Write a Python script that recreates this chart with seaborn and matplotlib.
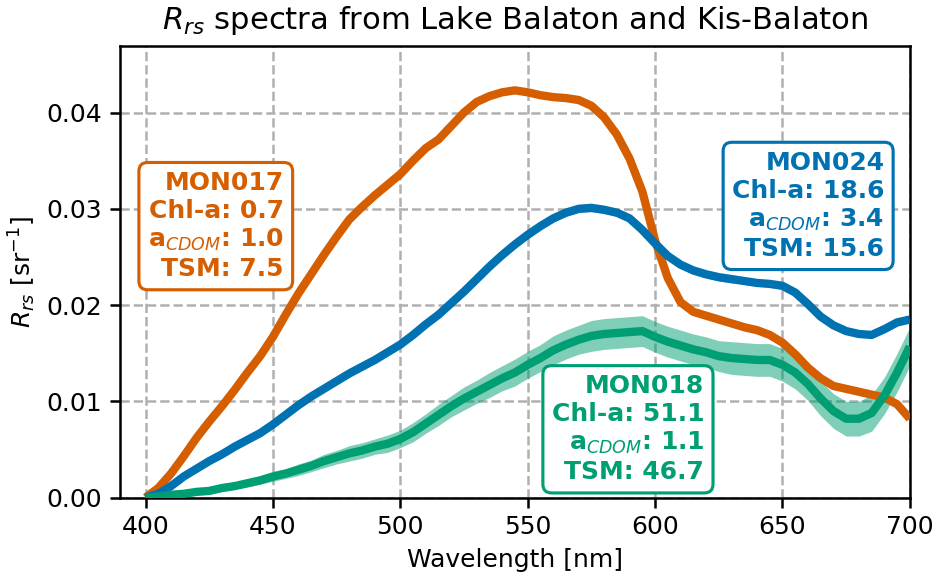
import numpy as np
import pandas as pd
import matplotlib
matplotlib.use("Agg")
import matplotlib.pyplot as plt
import seaborn as sns

wavelength = list(range(400, 701, 5))

mon017 = [0.0000, 0.0010, 0.0025, 0.0043, 0.0062, 0.0079, 0.0095, 0.0112, 0.0130, 0.0147,
          0.0167, 0.0190, 0.0212, 0.0232, 0.0252, 0.0271, 0.0289, 0.0302, 0.0314, 0.0325,
          0.0336, 0.0350, 0.0363, 0.0372, 0.0386, 0.0400, 0.0411, 0.0417, 0.0421, 0.0423,
          0.0421, 0.0418, 0.0416, 0.0415, 0.0413, 0.0407, 0.0395, 0.0377, 0.0352, 0.0318,
          0.0267, 0.0228, 0.0203, 0.0193, 0.0189, 0.0185, 0.0181, 0.0177, 0.0174, 0.0169,
          0.0161, 0.0149, 0.0135, 0.0124, 0.0116, 0.0113, 0.0110, 0.0107, 0.0104, 0.0097,
          0.0082]
mon017_std = [0.0000, 0.0001, 0.0001, 0.0001, 0.0001, 0.0002, 0.0002, 0.0002, 0.0002, 0.0002,
              0.0002, 0.0002, 0.0002, 0.0002, 0.0002, 0.0002, 0.0002, 0.0002, 0.0002, 0.0003,
              0.0003, 0.0003, 0.0003, 0.0003, 0.0003, 0.0003, 0.0003, 0.0003, 0.0003, 0.0003,
              0.0003, 0.0003, 0.0003, 0.0003, 0.0003, 0.0003, 0.0003, 0.0003, 0.0003, 0.0003,
              0.0002, 0.0002, 0.0002, 0.0002, 0.0002, 0.0002, 0.0002, 0.0002, 0.0002, 0.0002,
              0.0002, 0.0002, 0.0002, 0.0002, 0.0002, 0.0002, 0.0002, 0.0002, 0.0002, 0.0002,
              0.0002]

mon024 = [0.0000, 0.0004, 0.0012, 0.0022, 0.0030, 0.0038, 0.0045, 0.0053, 0.0060, 0.0067,
          0.0076, 0.0086, 0.0096, 0.0105, 0.0113, 0.0121, 0.0129, 0.0136, 0.0143, 0.0151,
          0.0159, 0.0169, 0.0180, 0.0190, 0.0202, 0.0214, 0.0227, 0.0240, 0.0252, 0.0263,
          0.0273, 0.0282, 0.0290, 0.0296, 0.0300, 0.0301, 0.0299, 0.0296, 0.0290, 0.0278,
          0.0264, 0.0251, 0.0242, 0.0236, 0.0232, 0.0229, 0.0227, 0.0225, 0.0223, 0.0222,
          0.0220, 0.0213, 0.0201, 0.0188, 0.0179, 0.0173, 0.0170, 0.0169, 0.0175, 0.0182,
          0.0185]
mon024_std = [0.0000, 0.0001, 0.0001, 0.0001, 0.0002, 0.0002, 0.0002, 0.0002, 0.0002, 0.0002,
              0.0002, 0.0002, 0.0002, 0.0002, 0.0002, 0.0002, 0.0002, 0.0002, 0.0003, 0.0003,
              0.0003, 0.0003, 0.0003, 0.0003, 0.0003, 0.0003, 0.0004, 0.0004, 0.0004, 0.0004,
              0.0004, 0.0004, 0.0004, 0.0004, 0.0004, 0.0004, 0.0004, 0.0004, 0.0004, 0.0004,
              0.0004, 0.0004, 0.0004, 0.0004, 0.0004, 0.0004, 0.0004, 0.0003, 0.0003, 0.0003,
              0.0003, 0.0003, 0.0003, 0.0003, 0.0003, 0.0003, 0.0003, 0.0003, 0.0003, 0.0003,
              0.0003]

mon018 = [0.0000, 0.0001, 0.0003, 0.0004, 0.0006, 0.0007, 0.0010, 0.0012, 0.0015, 0.0018,
          0.0022, 0.0025, 0.0029, 0.0033, 0.0038, 0.0042, 0.0046, 0.0049, 0.0053, 0.0056,
          0.0061, 0.0068, 0.0077, 0.0086, 0.0095, 0.0103, 0.0110, 0.0117, 0.0124, 0.0130,
          0.0138, 0.0145, 0.0153, 0.0159, 0.0164, 0.0168, 0.0170, 0.0171, 0.0172, 0.0173,
          0.0167, 0.0162, 0.0158, 0.0154, 0.0151, 0.0147, 0.0145, 0.0144, 0.0143, 0.0143,
          0.0138, 0.0130, 0.0118, 0.0103, 0.0090, 0.0082, 0.0082, 0.0088, 0.0106, 0.0130,
          0.0157]
mon018_std = [0.0000, 0.0001, 0.0001, 0.0002, 0.0002, 0.0003, 0.0003, 0.0003, 0.0004, 0.0004,
              0.0005, 0.0005, 0.0006, 0.0006, 0.0007, 0.0007, 0.0008, 0.0008, 0.0008, 0.0009,
              0.0009, 0.0010, 0.0010, 0.0011, 0.0011, 0.0012, 0.0012, 0.0013, 0.0013, 0.0014,
              0.0014, 0.0014, 0.0015, 0.0015, 0.0015, 0.0016, 0.0016, 0.0016, 0.0016, 0.0016,
              0.0016, 0.0016, 0.0016, 0.0016, 0.0016, 0.0016, 0.0017, 0.0017, 0.0017, 0.0017,
              0.0017, 0.0017, 0.0017, 0.0018, 0.0018, 0.0018, 0.0018, 0.0019, 0.0019, 0.0020,
              0.0020]

stations = ["MON017", "MON024", "MON018"]
colors = ["#D55E00", "#0072B2", "#009E73"]
labels = [
    "MON017\nChl-a: 0.7\na$_{CDOM}$: 1.0\nTSM: 7.5",
    "MON024\nChl-a: 18.6\na$_{CDOM}$: 3.4\nTSM: 15.6",
    "MON018\nChl-a: 51.1\na$_{CDOM}$: 1.1\nTSM: 46.7",
]
label_pos = [(454.3, 0.0282), (690.0, 0.0303), (619.3, 0.0071)]

sns.set_style("ticks")
plt.rcParams["font.family"] = ["DejaVu Sans"]
for key in ["text.color", "axes.labelcolor", "xtick.color", "ytick.color", "axes.edgecolor"]:
    plt.rcParams[key] = "black"

fig = plt.figure(figsize=(938 / 150, 576 / 150), dpi=150)
ax = fig.add_axes([0.128, 0.136, 0.842, 0.784])

series = [mon017, mon024, mon018]
stds = [mon017_std, mon024_std, mon018_std]
frames = []
for name, vals in zip(stations, series):
    frames.append(pd.DataFrame({"wavelength": wavelength, "Rrs": vals, "station": name}))
df = pd.concat(frames, ignore_index=True)

for name, vals, sd, c in zip(stations, series, stds, colors):
    v = np.array(vals)
    s = np.array(sd)
    ax.fill_between(wavelength, v - s, v + s, color=c, alpha=0.5, lw=0, zorder=2)

sns.lineplot(data=df, x="wavelength", y="Rrs", hue="station", palette=colors,
             hue_order=stations, linewidth=4, ax=ax, legend=False, zorder=3,
             solid_joinstyle="round", solid_capstyle="butt")

for txt, (x, y), c in zip(labels, label_pos, colors):
    ax.text(x, y, txt, ha="right", va="center", color=c, fontsize=12, fontweight="bold",
            zorder=5, linespacing=1.2,
            bbox=dict(boxstyle="round,pad=0.35", fc="white", ec=c, lw=1.5))

ax.set_xlim(390, 700)
ax.set_ylim(0, 0.0469)
ax.set_xticks([400, 450, 500, 550, 600, 650, 700])
ax.set_yticks([0.0, 0.01, 0.02, 0.03, 0.04])
ax.set_yticklabels(["0.00", "0.01", "0.02", "0.03", "0.04"])
ax.grid(True, linestyle="--", color="#b0b0b0", linewidth=1.2)
ax.set_axisbelow(True)
ax.tick_params(labelsize=12, length=5, width=1.2)
for sp in ax.spines.values():
    sp.set_linewidth(1.2)
ax.set_xlabel("Wavelength [nm]", fontsize=12)
ax.set_ylabel("$R_{rs}$ [sr$^{-1}$]", fontsize=12)
ax.set_title("$R_{rs}$ spectra from Lake Balaton and Kis-Balaton", fontsize=14.7, pad=8)

fig.savefig("out.png", dpi=150)
